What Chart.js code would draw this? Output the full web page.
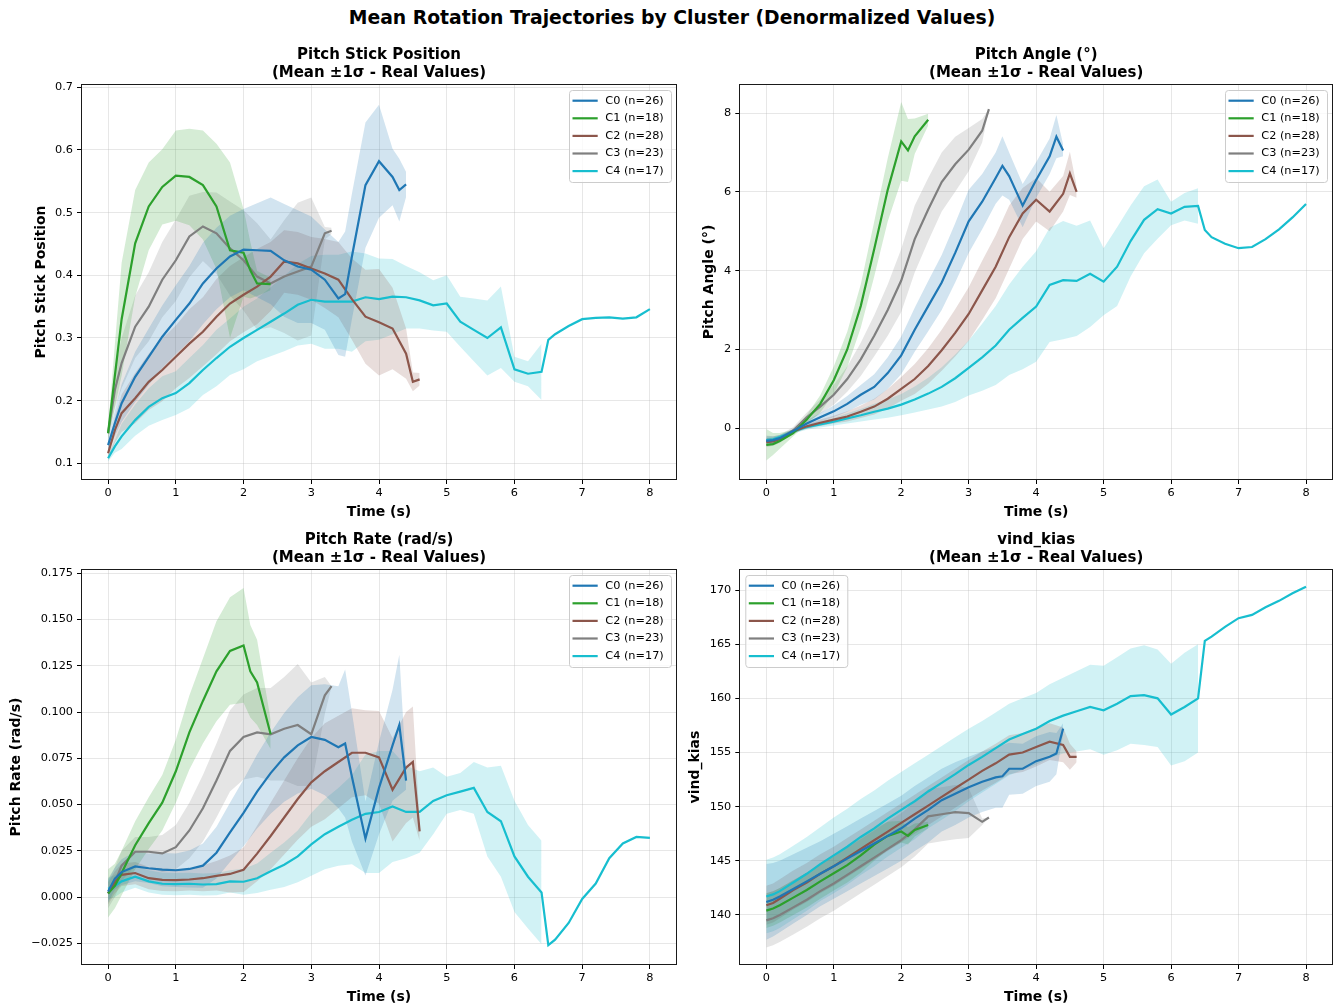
<!DOCTYPE html>
<html>
<head>
<meta charset="utf-8">
<title>Mean Rotation Trajectories by Cluster</title>
<script src="https://cdn.jsdelivr.net/npm/chart.js@4.4.1/dist/chart.umd.min.js"></script>
<style>
  html, body { margin: 0; padding: 0; background: #fff; }
  body { width: 1336px; height: 1007px; position: relative; overflow: hidden; font-family: "DejaVu Sans", sans-serif; }
  #suptitle { position: absolute; left: 4px; top: 7px; width: 1336px; text-align: center; font-weight: bold; font-size: 18.8px; line-height: 22px; color: #000; }
  .panel { position: absolute; }
</style>
</head>
<body>
<div id="suptitle">Mean Rotation Trajectories by Cluster (Denormalized Values)</div>
<div class="panel" style="left:0px; top:46px; width:680px; height:476px;"><canvas id="stickChart"></canvas></div>
<div class="panel" style="left:685px; top:46px; width:651px; height:476px;"><canvas id="angleChart"></canvas></div>
<div class="panel" style="left:0px; top:531px; width:680px; height:476px;"><canvas id="rateChart"></canvas></div>
<div class="panel" style="left:680px; top:531px; width:656px; height:476px;"><canvas id="kiasChart"></canvas></div>

<script>
// clusters
const clusterLabels = ["C0 (n=26)", "C1 (n=18)", "C2 (n=28)", "C3 (n=23)", "C4 (n=17)"];
const clusterColors = ["#1f77b4", "#2ca02c", "#8c564b", "#7f7f7f", "#17becf"];
const bandColors = ["rgba(31,119,180,0.2)", "rgba(44,160,44,0.2)", "rgba(140,86,75,0.2)", "rgba(127,127,127,0.2)", "rgba(23,190,207,0.2)"];

// time samples (s) for each cluster
const T0 = [0, 0.1, 0.2, 0.4, 0.6, 0.8, 1.0, 1.2, 1.4, 1.6, 1.8, 2.0, 2.2, 2.4, 2.6, 2.8, 3.0, 3.2, 3.4, 3.5, 3.6, 3.8, 4.0, 4.2, 4.3, 4.4];
const T1 = [0, 0.1, 0.2, 0.4, 0.6, 0.8, 1.0, 1.2, 1.4, 1.6, 1.8, 2.0, 2.1, 2.2, 2.4];
const T2 = [0, 0.1, 0.2, 0.4, 0.6, 0.8, 1.0, 1.2, 1.4, 1.6, 1.8, 2.0, 2.2, 2.4, 2.6, 2.8, 3.0, 3.2, 3.4, 3.6, 3.8, 4.0, 4.2, 4.4, 4.5, 4.6];
const T3 = [0, 0.1, 0.2, 0.4, 0.6, 0.8, 1.0, 1.2, 1.4, 1.6, 1.8, 2.0, 2.2, 2.4, 2.6, 2.8, 3.0, 3.2, 3.3];
const T4 = [0, 0.1, 0.2, 0.4, 0.6, 0.8, 1.0, 1.2, 1.4, 1.6, 1.8, 2.0, 2.2, 2.4, 2.6, 2.8, 3.0, 3.2, 3.4, 3.6, 3.8, 4.0, 4.2, 4.4, 4.6, 4.8, 5.0, 5.2, 5.4, 5.6, 5.8, 6.0, 6.2, 6.4, 6.5, 6.6, 6.8, 7.0, 7.2, 7.4, 7.6, 7.8, 8.0];
const times = [T0, T1, T2, T3, T4];

const xTicks = [0, 1, 2, 3, 4, 5, 6, 7, 8];

// Pitch Stick Position
const stickMean = [
  [0.129, 0.164, 0.196, 0.238, 0.270, 0.302, 0.329, 0.355, 0.387, 0.411, 0.430, 0.441, 0.440, 0.439, 0.424, 0.414, 0.409, 0.393, 0.363, 0.370, 0.430, 0.544, 0.582, 0.557, 0.536, 0.545],
  [0.148, 0.240, 0.330, 0.451, 0.510, 0.541, 0.559, 0.557, 0.544, 0.510, 0.440, 0.436, 0.408, 0.387, 0.386],
  [0.116, 0.153, 0.180, 0.204, 0.230, 0.249, 0.270, 0.291, 0.310, 0.334, 0.355, 0.369, 0.382, 0.398, 0.422, 0.419, 0.411, 0.403, 0.393, 0.362, 0.334, 0.325, 0.315, 0.275, 0.230, 0.234],
  [0.148, 0.217, 0.260, 0.318, 0.350, 0.393, 0.424, 0.462, 0.478, 0.467, 0.443, 0.424, 0.398, 0.387, 0.398, 0.406, 0.414, 0.467, 0.471],
  [0.108, 0.127, 0.143, 0.169, 0.190, 0.204, 0.212, 0.228, 0.249, 0.268, 0.286, 0.300, 0.313, 0.326, 0.339, 0.353, 0.361, 0.358, 0.358, 0.358, 0.365, 0.362, 0.366, 0.365, 0.360, 0.352, 0.355, 0.326, 0.313, 0.300, 0.317, 0.250, 0.243, 0.246, 0.297, 0.306, 0.319, 0.330, 0.332, 0.333, 0.331, 0.333, 0.346]
];
const stickStd = [
  [0.012, 0.02, 0.03, 0.04, 0.045, 0.05, 0.055, 0.06, 0.065, 0.065, 0.065, 0.065, 0.075, 0.085, 0.09, 0.09, 0.085, 0.08, 0.09, 0.1, 0.1, 0.1, 0.09, 0.045, 0.05, 0.02],
  [0.01, 0.05, 0.09, 0.085, 0.07, 0.06, 0.072, 0.077, 0.087, 0.1, 0.14, 0.07, 0.045, 0.02, 0.01],
  [0.01, 0.02, 0.03, 0.04, 0.045, 0.05, 0.05, 0.055, 0.055, 0.06, 0.06, 0.06, 0.06, 0.055, 0.05, 0.05, 0.05, 0.055, 0.06, 0.065, 0.075, 0.085, 0.065, 0.04, 0.015, 0.01],
  [0.01, 0.03, 0.04, 0.05, 0.055, 0.06, 0.065, 0.065, 0.055, 0.065, 0.075, 0.08, 0.085, 0.07, 0.09, 0.11, 0.11, 0.01, 0.005],
  // band stops at 6.4 s (single trajectory after that)
  [0.005, 0.01, 0.02, 0.025, 0.03, 0.035, 0.035, 0.04, 0.04, 0.045, 0.045, 0.05, 0.05, 0.055, 0.06, 0.065, 0.07, 0.075, 0.075, 0.08, 0.07, 0.065, 0.06, 0.05, 0.045, 0.04, 0.045, 0.04, 0.05, 0.06, 0.065, 0.02, 0.02, 0.045]
];
const stickTicks = [0.1, 0.2, 0.3, 0.4, 0.5, 0.6, 0.7];

// Pitch Angle (deg)
const angleMean = [
  [-0.32, -0.30, -0.25, -0.07, 0.12, 0.28, 0.43, 0.62, 0.85, 1.05, 1.40, 1.85, 2.50, 3.10, 3.70, 4.45, 5.25, 5.75, 6.35, 6.66, 6.40, 5.65, 6.30, 6.90, 7.40, 7.05],
  [-0.42, -0.40, -0.32, -0.12, 0.22, 0.62, 1.22, 2.00, 3.10, 4.55, 6.05, 7.28, 7.05, 7.41, 7.83],
  [-0.35, -0.33, -0.27, -0.08, 0.05, 0.14, 0.22, 0.30, 0.42, 0.55, 0.75, 1.00, 1.25, 1.58, 1.98, 2.42, 2.90, 3.50, 4.10, 4.85, 5.45, 5.80, 5.50, 5.95, 6.47, 6.00],
  [-0.33, -0.32, -0.27, -0.05, 0.28, 0.55, 0.85, 1.25, 1.75, 2.35, 3.00, 3.75, 4.80, 5.55, 6.25, 6.70, 7.07, 7.55, 8.10],
  [-0.30, -0.28, -0.22, -0.08, 0.03, 0.10, 0.17, 0.25, 0.33, 0.42, 0.50, 0.60, 0.73, 0.88, 1.05, 1.27, 1.53, 1.80, 2.10, 2.50, 2.80, 3.09, 3.64, 3.76, 3.74, 3.92, 3.72, 4.10, 4.75, 5.29, 5.56, 5.45, 5.62, 5.64, 5.03, 4.85, 4.68, 4.57, 4.60, 4.80, 5.05, 5.35, 5.69]
];
const angleStd = [
  [0.12, 0.10, 0.08, 0.05, 0.08, 0.11, 0.15, 0.20, 0.25, 0.32, 0.40, 0.48, 0.56, 0.64, 0.70, 0.75, 0.80, 0.70, 0.65, 0.75, 0.60, 0.55, 0.45, 0.45, 0.55, 0.15],
  [0.40, 0.28, 0.20, 0.08, 0.12, 0.22, 0.35, 0.45, 0.55, 0.70, 0.80, 1.00, 0.80, 0.45, 0.15],
  [0.10, 0.08, 0.07, 0.05, 0.06, 0.08, 0.10, 0.13, 0.16, 0.20, 0.25, 0.30, 0.38, 0.45, 0.52, 0.60, 0.68, 0.75, 0.80, 0.80, 0.65, 0.55, 0.50, 0.45, 0.55, 0.15],
  [0.15, 0.12, 0.10, 0.08, 0.12, 0.18, 0.25, 0.32, 0.42, 0.52, 0.65, 0.80, 0.85, 0.80, 0.75, 0.70, 0.55, 0.30, 0.0],
  [0.05, 0.05, 0.05, 0.05, 0.07, 0.08, 0.10, 0.13, 0.16, 0.20, 0.23, 0.27, 0.33, 0.40, 0.50, 0.60, 0.70, 0.85, 1.00, 1.15, 1.30, 1.40, 1.45, 1.50, 1.40, 1.35, 0.85, 1.00, 0.90, 0.85, 0.75, 0.30, 0.35, 0.45]
];
const angleTicks = [0, 2, 4, 6, 8];

// Pitch Rate (rad/s)
const rateMean = [
  [0.003, 0.010, 0.0135, 0.0166, 0.0156, 0.0148, 0.0145, 0.0152, 0.017, 0.024, 0.035, 0.0455, 0.057, 0.067, 0.0755, 0.082, 0.0865, 0.085, 0.081, 0.083, 0.065, 0.0316, 0.059, 0.082, 0.093, 0.063],
  [0.002, 0.006, 0.013, 0.028, 0.040, 0.051, 0.068, 0.089, 0.106, 0.122, 0.133, 0.136, 0.122, 0.116, 0.088],
  [0.002, 0.008, 0.012, 0.013, 0.0102, 0.0093, 0.0092, 0.0095, 0.0102, 0.0115, 0.0125, 0.0148, 0.0235, 0.033, 0.043, 0.053, 0.062, 0.068, 0.073, 0.078, 0.078, 0.0755, 0.058, 0.070, 0.073, 0.0355],
  [0.002, 0.008, 0.017, 0.0245, 0.0245, 0.0236, 0.027, 0.036, 0.048, 0.063, 0.079, 0.0865, 0.089, 0.088, 0.091, 0.093, 0.088, 0.109, 0.114],
  [0.0045, 0.006, 0.0085, 0.011, 0.0085, 0.0072, 0.007, 0.0072, 0.0068, 0.007, 0.0085, 0.0083, 0.0102, 0.014, 0.0175, 0.022, 0.0285, 0.034, 0.038, 0.0418, 0.045, 0.046, 0.049, 0.046, 0.046, 0.052, 0.055, 0.057, 0.059, 0.046, 0.041, 0.022, 0.011, 0.0025, -0.026, -0.023, -0.014, -0.001, 0.0073, 0.021, 0.029, 0.0325, 0.032]
];
const rateStd = [
  [0.006, 0.006, 0.007, 0.008, 0.008, 0.009, 0.009, 0.010, 0.012, 0.014, 0.016, 0.018, 0.020, 0.022, 0.024, 0.026, 0.028, 0.030, 0.033, 0.040, 0.035, 0.020, 0.025, 0.030, 0.038, 0.005],
  [0.013, 0.012, 0.012, 0.013, 0.014, 0.015, 0.017, 0.020, 0.023, 0.027, 0.029, 0.031, 0.025, 0.023, 0.008],
  [0.006, 0.006, 0.006, 0.006, 0.006, 0.006, 0.006, 0.006, 0.007, 0.008, 0.010, 0.012, 0.015, 0.018, 0.020, 0.022, 0.024, 0.026, 0.025, 0.024, 0.023, 0.025, 0.028, 0.030, 0.030, 0.005],
  [0.008, 0.008, 0.008, 0.008, 0.008, 0.010, 0.012, 0.015, 0.018, 0.020, 0.022, 0.023, 0.024, 0.025, 0.028, 0.033, 0.028, 0.010, 0.0],
  [0.006, 0.006, 0.006, 0.006, 0.006, 0.006, 0.006, 0.006, 0.006, 0.006, 0.006, 0.007, 0.008, 0.010, 0.012, 0.014, 0.017, 0.019, 0.021, 0.024, 0.032, 0.033, 0.030, 0.025, 0.022, 0.018, 0.010, 0.010, 0.014, 0.024, 0.030, 0.030, 0.028, 0.028]
];
const rateTicks = [-0.025, 0, 0.025, 0.05, 0.075, 0.1, 0.125, 0.15, 0.175];

// vind_kias
const kiasMean = [
  [141.2, 141.4, 141.7, 142.4, 143.1, 143.8, 144.5, 145.2, 145.9, 146.6, 147.3, 148.0, 148.9, 149.7, 150.6, 151.2, 151.8, 152.3, 152.7, 152.8, 153.5, 153.5, 154.2, 154.6, 154.9, 157.2],
  [140.4, 140.6, 140.9, 141.6, 142.3, 143.1, 143.85, 144.6, 145.5, 146.5, 147.3, 147.7, 147.3, 147.85, 148.3],
  [140.9, 141.1, 141.5, 142.3, 143.0, 143.8, 144.5, 145.3, 146.1, 146.9, 147.7, 148.5, 149.3, 150.1, 150.9, 151.7, 152.5, 153.3, 154.0, 154.8, 155.0, 155.5, 156.0, 155.7, 154.6, 154.6],
  [139.5, 139.7, 140.0, 140.7, 141.4, 142.2, 142.9, 143.7, 144.5, 145.3, 146.1, 146.9, 147.9, 149.1, 149.3, 149.5, 149.4, 148.6, 149.0],
  [141.7, 141.9, 142.2, 143.0, 143.8, 144.7, 145.5, 146.3, 147.2, 148.0, 148.9, 149.7, 150.5, 151.4, 152.2, 153.0, 153.85, 154.6, 155.4, 156.2, 156.7, 157.2, 157.9, 158.4, 158.8, 159.2, 158.9, 159.5, 160.2, 160.3, 160.0, 158.5, 159.2, 160.0, 165.3, 165.7, 166.6, 167.4, 167.7, 168.4, 169.0, 169.7, 170.3]
];
const kiasStd = [
  [3.5, 3.4, 3.3, 3.2, 3.1, 3.0, 3.0, 3.0, 3.0, 3.0, 3.0, 3.0, 3.0, 3.0, 2.9, 2.9, 2.8, 2.8, 2.8, 2.9, 2.4, 2.3, 2.3, 2.3, 1.9, 0.5],
  [1.6, 1.6, 1.6, 1.6, 1.6, 1.6, 1.6, 1.6, 1.6, 1.5, 1.3, 1.0, 0.8, 0.6, 0.3],
  [1.8, 1.8, 1.8, 1.8, 1.8, 1.8, 1.8, 1.8, 1.8, 1.8, 1.8, 1.8, 1.8, 1.8, 1.8, 1.8, 1.8, 1.8, 1.8, 1.8, 1.8, 1.8, 1.7, 1.6, 1.2, 0.5],
  [2.5, 2.5, 2.5, 2.5, 2.5, 2.5, 2.5, 2.5, 2.5, 2.5, 2.5, 2.5, 2.5, 2.5, 2.5, 2.5, 2.3, 0.3, 0.0],
  [3.4, 3.4, 3.4, 3.4, 3.4, 3.4, 3.5, 3.5, 3.5, 3.5, 3.5, 3.5, 3.5, 3.4, 3.4, 3.4, 3.35, 3.3, 3.3, 3.3, 3.3, 3.3, 3.4, 3.5, 3.7, 3.9, 4.1, 4.3, 4.4, 4.6, 4.5, 4.7, 5.0, 5.0]
];
const kiasTicks = [140, 145, 150, 155, 160, 165, 170];

const FONT = "'DejaVu Sans', sans-serif";
const tickFont = { family: FONT, size: 11.3 };
const gridColor = "rgba(176,176,176,0.3)";

function fmtTick(v, decimals) {
  const s = Math.abs(v).toFixed(decimals);
  return v < 0 ? "\u2212" + s : s;
}

function buildDatasets(means, stds) {
  const sets = [];
  means.forEach((m, c) => {
    const t = times[c];
    const upper = [];
    const lower = [];
    stds[c].forEach((s, i) => {
      upper.push({ x: t[i], y: m[i] + s });
      lower.push({ x: t[i], y: m[i] - s });
    });
    sets.push({ data: upper, fill: "+1", backgroundColor: bandColors[c], borderColor: "rgba(0,0,0,0)", borderWidth: 0, pointRadius: 0, order: 1 });
    sets.push({ data: lower, fill: false, borderColor: "rgba(0,0,0,0)", borderWidth: 0, pointRadius: 0, order: 1 });
    sets.push({
      label: clusterLabels[c],
      data: t.map((x, i) => ({ x: x, y: m[i] })),
      borderColor: clusterColors[c],
      borderWidth: 2.2,
      pointRadius: 0,
      fill: false,
      order: 0
    });
  });
  return sets;
}

// axes frame, subplot title centred on the axes, matplotlib-like legend box
const framePlugin = {
  id: "frameLegend",
  afterDraw(chart, args, opts) {
    const ctx = chart.ctx;
    const a = chart.chartArea;
    ctx.save();
    ctx.strokeStyle = "#1a1a1a";
    ctx.lineWidth = 1;
    ctx.strokeRect(Math.round(a.left) + 0.5, Math.round(a.top) + 0.5, Math.round(a.right - a.left) - 1, Math.round(a.bottom - a.top) - 1);

    ctx.fillStyle = "#000";
    ctx.font = "bold 15px " + FONT;
    ctx.textAlign = "center";
    ctx.textBaseline = "middle";
    const cx = (a.left + a.right) / 2;
    ctx.fillText(opts.title[0], cx, a.top - 29);
    ctx.fillText(opts.title[1], cx, a.top - 11);

    const w = 102, h = 92;
    const bx = opts.corner === "left" ? a.left + 6 : a.right - 6 - w;
    const by = a.top + 6;
    ctx.beginPath();
    if (ctx.roundRect) ctx.roundRect(bx + 0.5, by + 0.5, w, h, 3); else ctx.rect(bx + 0.5, by + 0.5, w, h);
    ctx.fillStyle = "rgba(255,255,255,0.8)";
    ctx.fill();
    ctx.strokeStyle = "#cccccc";
    ctx.lineWidth = 1;
    ctx.stroke();

    ctx.font = "11.3px " + FONT;
    ctx.textAlign = "left";
    clusterLabels.forEach((lab, i) => {
      const yy = by + 10.7 + i * 17.6;
      ctx.beginPath();
      ctx.strokeStyle = clusterColors[i];
      ctx.lineWidth = 2.2;
      ctx.moveTo(bx + 3.5, yy);
      ctx.lineTo(bx + 28.7, yy);
      ctx.stroke();
      ctx.fillStyle = "#000";
      ctx.fillText(lab, bx + 36.3, yy);
    });
    ctx.restore();
  }
};

function makeChart(id, cfg) {
  new Chart(document.getElementById(id), {
    type: "line",
    data: { datasets: buildDatasets(cfg.means, cfg.stds) },
    plugins: [framePlugin],
    options: {
      responsive: true,
      maintainAspectRatio: false,
      animation: false,
      events: [],
      layout: { padding: { left: 0, right: 3, top: 38, bottom: 0 } },
      elements: { line: { tension: 0 } },
      plugins: {
        legend: { display: false },
        tooltip: { enabled: false },
        title: { display: false },
        frameLegend: { corner: cfg.legendCorner, title: cfg.title }
      },
      scales: {
        x: {
          type: "linear",
          min: -0.4,
          max: 8.4,
          afterBuildTicks: s => { s.ticks = xTicks.map(v => ({ value: v })); },
          afterFit: s => { s.height = 42; },
          border: { display: false },
          grid: { color: gridColor, lineWidth: 1, tickColor: "#000", tickLength: 4, tickWidth: 1 },
          ticks: { color: "#000", font: tickFont, padding: 2, maxRotation: 0, autoSkip: false, callback: v => String(v) },
          title: { display: true, text: "Time (s)", color: "#000", font: { family: FONT, size: 14, weight: "bold", lineHeight: "16px" }, padding: { top: 0, bottom: 2 } }
        },
        y: {
          type: "linear",
          min: cfg.ymin,
          max: cfg.ymax,
          afterBuildTicks: s => { s.ticks = cfg.yTicks.map(v => ({ value: v })); },
          afterFit: s => { s.width = cfg.yWidth; },
          border: { display: false },
          grid: { color: gridColor, lineWidth: 1, tickColor: "#000", tickLength: 4, tickWidth: 1 },
          ticks: { color: "#000", font: tickFont, padding: 4, autoSkip: false, callback: v => fmtTick(v, cfg.decimals) },
          title: { display: true, text: cfg.ylabel, color: "#000", font: { family: FONT, size: 14, weight: "bold", lineHeight: "16px" }, padding: { top: cfg.yTitlePad, bottom: 0 } }
        }
      }
    }
  });
}

makeChart("stickChart", {
  title: ["Pitch Stick Position", "(Mean \u00b11\u03c3 - Real Values)"],
  ylabel: "Pitch Stick Position",
  means: stickMean, stds: stickStd, yTicks: stickTicks, decimals: 1,
  ymin: 0.0734, ymax: 0.7053, yWidth: 81, yTitlePad: 33, legendCorner: "right"
});
makeChart("angleChart", {
  title: ["Pitch Angle (\u00b0)", "(Mean \u00b11\u03c3 - Real Values)"],
  ylabel: "Pitch Angle (\u00b0)",
  means: angleMean, stds: angleStd, yTicks: angleTicks, decimals: 0,
  ymin: -1.312, ymax: 8.736, yWidth: 54.3, yTitlePad: 16.3, legendCorner: "right"
});
makeChart("rateChart", {
  title: ["Pitch Rate (rad/s)", "(Mean \u00b11\u03c3 - Real Values)"],
  ylabel: "Pitch Rate (rad/s)",
  means: rateMean, stds: rateStd, yTicks: rateTicks, decimals: 3,
  ymin: -0.0367, ymax: 0.1773, yWidth: 81, yTitlePad: 8, legendCorner: "right"
});
makeChart("kiasChart", {
  title: ["vind_kias", "(Mean \u00b11\u03c3 - Real Values)"],
  ylabel: "vind_kias",
  means: kiasMean, stds: kiasStd, yTicks: kiasTicks, decimals: 0,
  ymin: 135.38, ymax: 171.94, yWidth: 59.3, yTitlePad: 7, legendCorner: "left"
});
</script>
</body>
</html>
